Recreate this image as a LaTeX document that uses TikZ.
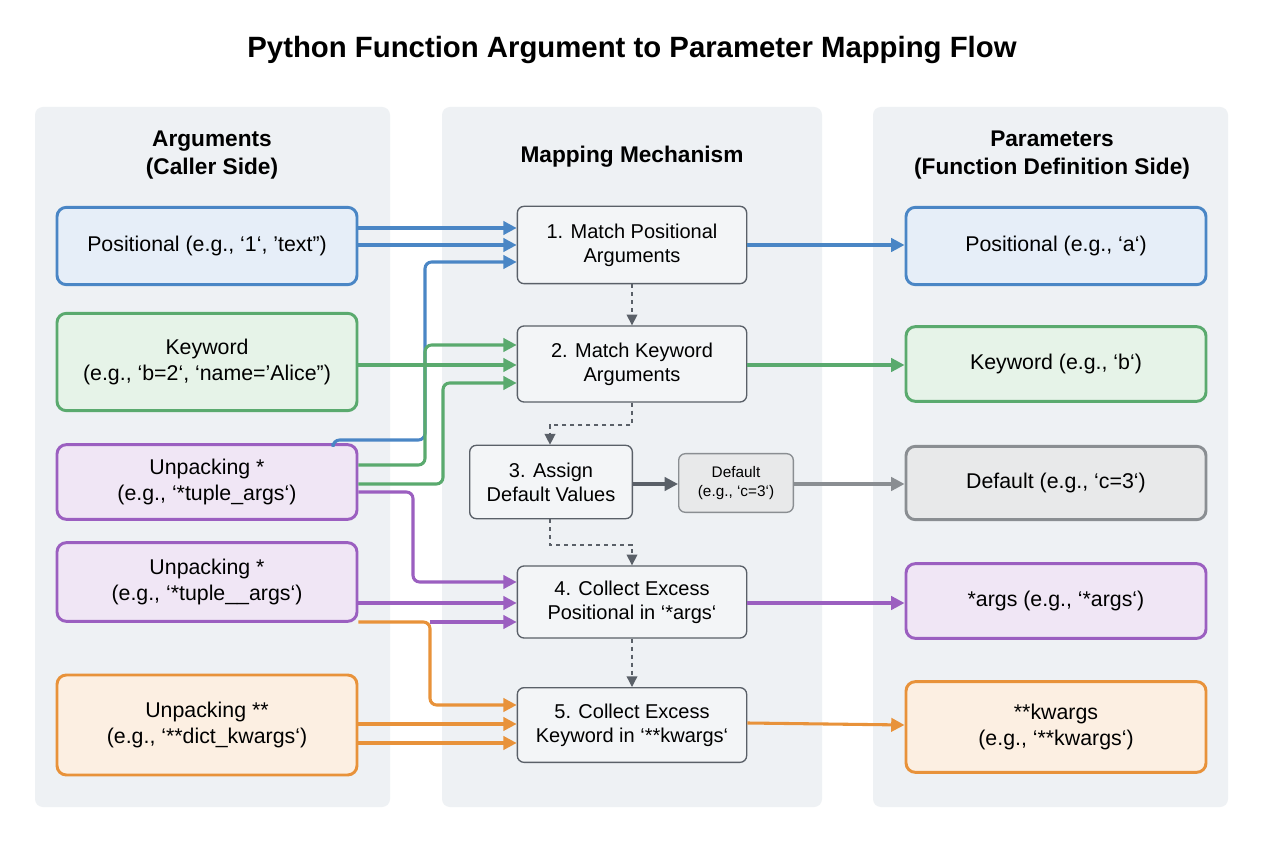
\documentclass[tikz,border=0pt]{standalone}
\usepackage{fontspec}
\setmainfont{Liberation Sans}
\usetikzlibrary{arrows.meta}
\newcommand\bq{\char"60\relax}
\newcommand\sq{\char"27\relax}
\newcommand\dq{\char"22\relax}
\definecolor{pnl}{HTML}{EEF1F4}
\definecolor{cb}{HTML}{4A86C5}\definecolor{fb}{HTML}{E6EEF8}
\definecolor{cg}{HTML}{5AAA6E}\definecolor{fg}{HTML}{E6F3E8}
\definecolor{cp}{HTML}{9B5FC0}\definecolor{fp}{HTML}{F0E6F5}
\definecolor{co}{HTML}{E8923A}\definecolor{fo}{HTML}{FCEFE2}
\definecolor{cy}{HTML}{8A8E92}\definecolor{fy}{HTML}{E8E9EA}
\definecolor{cmid}{HTML}{5A6068}\definecolor{fmid}{HTML}{F3F5F7}
\tikzset{
 box/.style={draw, rounded corners=7pt, line width=2.2pt, font=\fontsize{16}{19}\selectfont, align=center, inner sep=0pt},
 mid/.style={draw=cmid, fill=fmid, rounded corners=5pt, line width=1pt, font=\fontsize{15}{18}\selectfont, align=center, inner sep=0pt},
 ar/.style={line width=2.3pt, -{Triangle[length=10pt,width=10pt]}, rounded corners=5pt},
 da/.style={cmid, line width=1pt, dashed, -{Triangle[length=8pt,width=8pt]}},
 hd/.style={font=\fontsize{17}{21}\selectfont\bfseries, align=center}
}
\begin{document}
\begin{tikzpicture}[x=0.75pt,y=-0.75pt]
\useasboundingbox[fill=white] (0,0) rectangle (1264,848);
\node[font=\fontsize{22}{26}\selectfont\bfseries] (title) at (632,50) {Python Function Argument to Parameter Mapping Flow};
\fill[pnl, rounded corners=6pt] (35,107) rectangle (390,807);
\fill[pnl, rounded corners=6pt] (442,107) rectangle (822,807);
\fill[pnl, rounded corners=6pt] (873,107) rectangle (1228,807);
\node[hd] (h1) at (212,155) {Arguments\\(Caller Side)};
\node[hd] (h2) at (632,157) {Mapping Mechanism};
\node[hd] (h3) at (1052,155) {Parameters\\(Function Definition Side)};
% left
\node[box, draw=cb, fill=fb, minimum width=225pt, minimum height=58pt] (a1) at (207,246) {Positional (e.g., \bq1\bq, \sq text\dq)};
\node[box, draw=cg, fill=fg, minimum width=225pt, minimum height=73pt] (a2) at (207,362) {Keyword\\(e.g., \bq b=2\bq, \bq name=\sq Alice\dq)};
\node[box, draw=cp, fill=fp, minimum width=225pt, minimum height=56pt] (a3) at (207,482) {Unpacking *\\(e.g., \bq*tuple\_args\bq)};
\node[box, draw=cp, fill=fp, minimum width=225pt, minimum height=59pt] (a4) at (207,582) {Unpacking *\\(e.g., \bq*tuple\_\_args\bq)};
\node[box, draw=co, fill=fo, minimum width=225pt, minimum height=75pt] (a5) at (207,725) {Unpacking **\\(e.g., \bq**dict\_kwargs\bq)};
% middle
\node[mid, minimum width=172pt, minimum height=58pt] (m1) at (632,245) {1. Match Positional\\Arguments};
\node[mid, minimum width=172pt, minimum height=57pt] (m2) at (632,364) {2. Match Keyword\\Arguments};
\node[mid, minimum width=122pt, minimum height=55pt] (m3) at (551,482) {3. Assign\\Default Values};
\node[mid, draw=cy, fill=fy, minimum width=86pt, minimum height=44pt, font=\fontsize{11.5}{14}\selectfont] (md) at (736,483) {Default\\(e.g., \bq c=3\bq)};
\node[mid, minimum width=172pt, minimum height=54pt] (m4) at (632,602) {4. Collect Excess\\Positional in \bq*args\bq};
\node[mid, minimum width=172pt, minimum height=56pt] (m5) at (632,725) {5. Collect Excess\\Keyword in \bq**kwargs\bq};
% right
\node[box, draw=cb, fill=fb, minimum width=225pt, minimum height=58pt] (p1) at (1056,246) {Positional (e.g., \bq a\bq)};
\node[box, draw=cg, fill=fg, minimum width=225pt, minimum height=56pt] (p2) at (1056,364) {Keyword (e.g., \bq b\bq)};
\node[box, draw=cy, fill=fy, minimum width=225pt, minimum height=55pt] (p3) at (1056,483) {Default (e.g., \bq c=3\bq)};
\node[box, draw=cp, fill=fp, minimum width=225pt, minimum height=56pt] (p4) at (1056,601) {*args (e.g., \bq*args\bq)};
\node[box, draw=co, fill=fo, minimum width=225pt, minimum height=68pt] (p5) at (1056,727) {**kwargs\\(e.g., \bq**kwargs\bq)};
% left -> middle
\draw[ar, cb] (a1.east |- 0,228) -- (m1.west |- 0,228);
\draw[ar, cb] (a1.east |- 0,245) -- (m1.west |- 0,245);
\draw[ar, cb] (a3.north -| 333,0) -- (333,440) -- (425,440) -- (425,262) -- (m1.west |- 0,262);
\draw[ar, cg] (a2.east |- 0,365) -- (m2.west |- 0,365);
\draw[ar, cg] (a3.east |- 0,465) -- (425,465) -- (425,345) -- (m2.west |- 0,345);
\draw[ar, cg] (a3.east |- 0,484) -- (443,484) -- (443,383) -- (m2.west |- 0,383);
\draw[ar, cp] (a3.east |- 0,492) -- (413,492) -- (413,582) -- (m4.west |- 0,582);
\draw[ar, cp] (a4.east |- 0,603) -- (m4.west |- 0,603);
\coordinate (bend) at (430,622);
\draw[ar, cp] (bend) -- (m4.west |- bend);
\draw[ar, co] (a4.east |- bend) -- (bend) -- (430,705) -- (m5.west |- 0,705);
\draw[ar, co] (a5.east |- 0,724) -- (m5.west |- 0,724);
\draw[ar, co] (a5.east |- 0,743) -- (m5.west |- 0,743);
% middle -> right
\draw[ar, cb] (m1.east |- 0,245) -- (p1.west |- 0,245);
\draw[ar, cg] (m2.east |- 0,365) -- (p2.west |- 0,365);
\draw[ar, cy] (md.east |- 0,484) -- (p3.west |- 0,484);
\draw[ar, cmid] (m3.east |- 0,484) -- (md.west |- 0,484);
\draw[ar, cp] (m4.east |- 0,603) -- (p4.west |- 0,603);
\draw[ar, co] (m5.east |- 0,723) -- (p5.west |- 0,725);
% dashed flow
\draw[da] (m1.south) -- (m2.north);
\draw[da] (m2.south) -- (632,425) -- (550,425) -- (m3.north -| 550,0);
\draw[da] (m3.south -| 550,0) -- (550,545) -- (632,545) -- (m4.north);
\draw[da] (m4.south) -- (m5.north);
\end{tikzpicture}
\end{document}
